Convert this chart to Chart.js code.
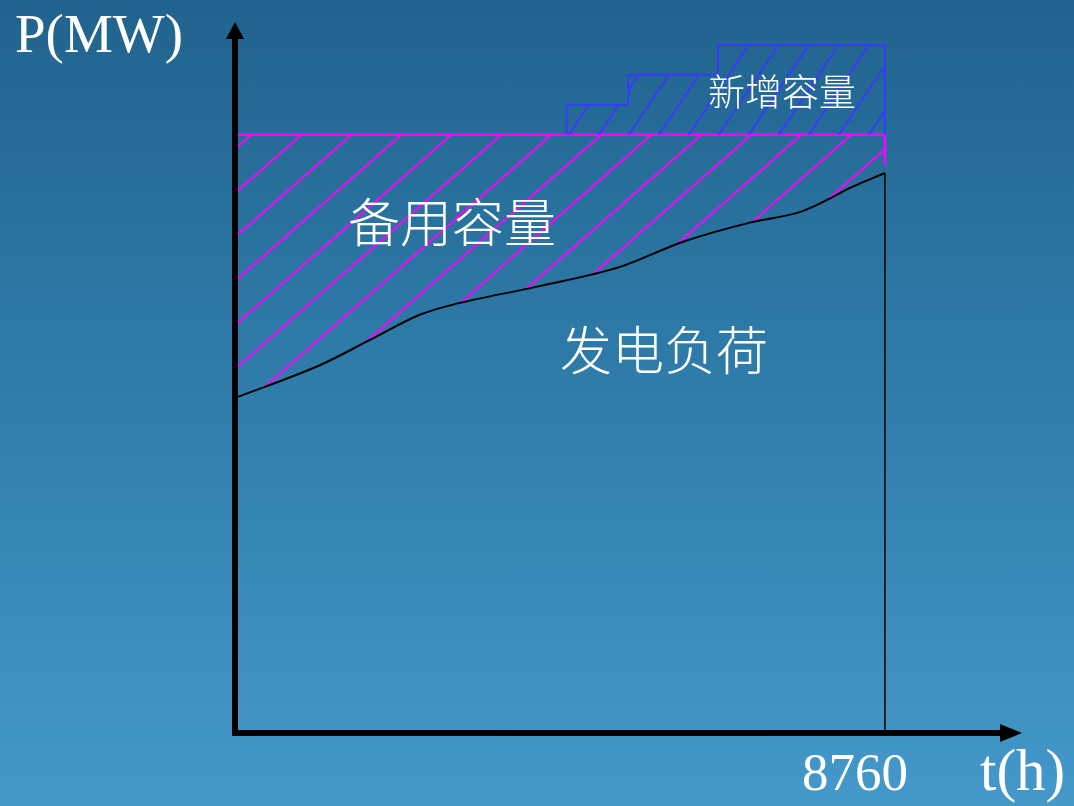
<!DOCTYPE html>
<html>
<head>
<meta charset="utf-8">
<script src="https://cdn.jsdelivr.net/npm/chart.js@4.4.1/dist/chart.umd.min.js"></script>
<style>
    html, body {
        margin: 0;
        padding: 0;
        width: 1074px;
        height: 806px;
        overflow: hidden;
        background: linear-gradient(to bottom, #21638e 0%, #2e7ba9 45%, #4499ca 100%);
    }
    canvas { display: block; }
</style>
</head>
<body>
<canvas id="load-chart" width="1074" height="806"></canvas>
<script>
// Annual load curve (hours, MW)
const loadHours = [0, 1150, 1820, 2490, 2940, 4070, 5190, 6040, 6940, 7620, 7980, 8290, 8760];
const loadMW = [56.0, 61.5, 65.7, 69.9, 71.6, 74.6, 77.9, 82.1, 85.3, 87.1, 89.1, 91.1, 93.6];

// Installed capacity line (reserve above load)
const reserveHours = [0, 8760, 8760];
const reserveMW = [100, 100, 95];

// New capacity steps
const newHours = [4470, 4470, 5300, 5300, 6510, 6510, 8760, 8760];
const newMW = [100, 105, 105, 110, 110, 115, 115, 100];

// Drop line at year end
const dropHours = [8760, 8760];
const dropMW = [93.6, 0];

const CAPACITY_MW = 100;
const YEAR_HOURS = 8760;

function toPoints(xs, ys) {
    return xs.map((x, i) => ({ x: x, y: ys[i] }));
}

// Diagonal hatch pattern
function makeHatch(color, w, h, tx, ty) {
    const c = document.createElement("canvas");
    c.width = w;
    c.height = h;
    const g = c.getContext("2d");
    g.strokeStyle = color;
    g.lineWidth = 2;
    for (let k = 0; k <= 2; k++) {
        g.beginPath();
        g.moveTo(-w, h * (k + 1));
        g.lineTo(3 * w, h * (k - 3));
        g.stroke();
    }
    const pat = document.getElementById("load-chart").getContext("2d").createPattern(c, "repeat");
    pat.setTransform(new DOMMatrix().translate(tx, ty));
    return pat;
}

const magentaHatch = makeHatch("#ff00ff", 50, 44, 0, 4);
const blueHatch = makeHatch("#3a3aff", 30, 45, 0, -2);

const regionLabels = [
    { text: "备用容量", x: 2925, y: 85.4, size: 52 },
    { text: "发电负荷", x: 5782, y: 64.0, size: 52 },
    { text: "新增容量", x: 7372, y: 107.1, size: 37 }
];

const decorPlugin = {
    id: "decor",
    afterDatasetsDraw(chart) {
        const ctx = chart.ctx;
        const area = chart.chartArea;
        const xs = chart.scales.x;
        const ys = chart.scales.y;
        const ox = area.left;
        const oy = area.bottom;

        ctx.save();
        // axes
        ctx.strokeStyle = "#000";
        ctx.fillStyle = "#000";
        ctx.lineWidth = 6;
        ctx.beginPath();
        ctx.moveTo(ox, oy + 3);
        ctx.lineTo(ox, 36);
        ctx.moveTo(ox - 3, oy);
        ctx.lineTo(1004, oy);
        ctx.stroke();

        ctx.beginPath();
        ctx.moveTo(ox, 22);
        ctx.lineTo(ox - 9, 39);
        ctx.lineTo(ox + 9, 39);
        ctx.closePath();
        ctx.fill();

        ctx.beginPath();
        ctx.moveTo(1022, oy);
        ctx.lineTo(1000, oy - 9);
        ctx.lineTo(1000, oy + 9);
        ctx.closePath();
        ctx.fill();

        // region labels
        ctx.fillStyle = "#ffffff";
        ctx.textAlign = "center";
        ctx.textBaseline = "middle";
        regionLabels.forEach((l) => {
            ctx.font = `300 ${l.size}px "Noto Sans CJK SC"`;
            ctx.fillText(l.text, xs.getPixelForValue(l.x), ys.getPixelForValue(l.y));
        });

        // axis titles and tick
        ctx.textBaseline = "alphabetic";
        ctx.textAlign = "left";
        ctx.font = '55px "Liberation Serif"';
        ctx.fillText("P(MW)", 15, 52);
        ctx.font = '53px "Liberation Serif"';
        ctx.fillText(String(YEAR_HOURS), xs.getPixelForValue(YEAR_HOURS) - 83, 790);
        ctx.font = '59px "Liberation Serif"';
        ctx.fillText("t(h)", 980, 790);
        ctx.restore();
    }
};

new Chart(document.getElementById("load-chart"), {
    type: "line",
    data: {
        datasets: [
            {
                label: "发电负荷",
                data: toPoints(loadHours, loadMW),
                borderColor: "#000000",
                borderWidth: 2,
                tension: 0.4,
                cubicInterpolationMode: "monotone",
                fill: { value: CAPACITY_MW },
                backgroundColor: magentaHatch
            },
            {
                label: "新增容量",
                data: toPoints(newHours, newMW),
                borderColor: "#3a3aff",
                borderWidth: 2,
                tension: 0,
                fill: { value: CAPACITY_MW },
                backgroundColor: blueHatch
            },
            {
                label: "备用容量",
                data: toPoints(reserveHours, reserveMW),
                borderColor: "#ff00ff",
                borderWidth: 2.5,
                tension: 0,
                fill: false
            },
            {
                label: "drop",
                data: toPoints(dropHours, dropMW),
                borderColor: "#000000",
                borderWidth: 1.5,
                tension: 0,
                fill: false
            }
        ]
    },
    options: {
        responsive: false,
        animation: false,
        devicePixelRatio: 1,
        layout: { padding: { left: 235, right: 60, top: 15, bottom: 73 } },
        elements: { point: { radius: 0 } },
        plugins: {
            legend: { display: false },
            tooltip: { enabled: false }
        },
        scales: {
            x: { type: "linear", min: 0, max: 10500, display: false },
            y: { type: "linear", min: 0, max: 120, display: false }
        }
    },
    plugins: [decorPlugin]
});
</script>
</body>
</html>
